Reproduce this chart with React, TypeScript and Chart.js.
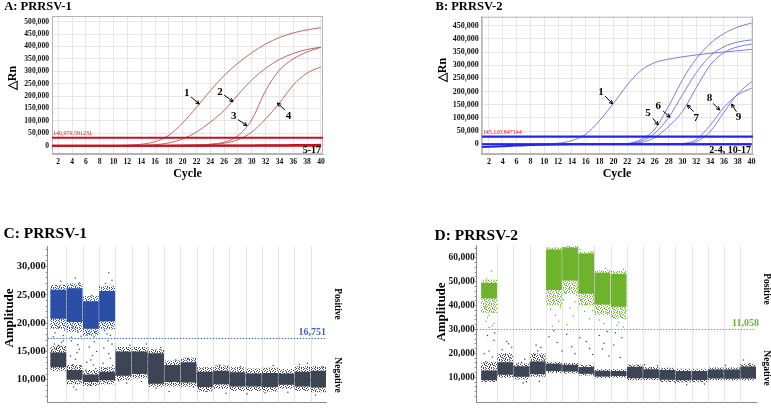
import React, { useEffect, useRef } from "react";
import { Chart, registerables } from "chart.js";
Chart.register(...registerables);

const SERIF = "'Liberation Serif','Times New Roman',serif";

// ---------------- Panels A / B : real-time PCR amplification ----------------
const cycles = [1, 2, 4, 6, 8, 10, 12, 14, 16, 18, 20, 22, 24, 26, 28, 30, 32, 34, 36, 38, 40];
const cycleTicks = [2, 4, 6, 8, 10, 12, 14, 16, 18, 20, 22, 24, 26, 28, 30, 32, 34, 36, 38, 40];
const rnTicksA = [0, 50000, 100000, 150000, 200000, 250000, 300000, 350000, 400000, 450000, 500000];
const rnTicksB = [0, 50000, 100000, 150000, 200000, 250000, 300000, 350000, 400000, 450000];

// ΔRn values (thousands) at the cycles above
const prrsv1Curve1 = [0, 0, 0, 0, 0, 0.5, 2, 6, 16, 42, 92, 155, 222, 283, 333, 375, 410, 436, 455, 467, 476];
const prrsv1Curve2 = [0, 0, 0, 0, 0, 0, 0.5, 1.5, 4, 11, 27, 55, 95, 142, 205, 265, 312, 348, 372, 388, 397];
const prrsv1Curve3 = [0, 0, 0, 0, 0, 0, 0, 0, 0.5, 1, 2, 3, 6, 14, 40, 105, 222, 305, 350, 378, 397];
const prrsv1Curve4 = [0, 0, 0, 0, 0, 0, 0, 0, 0.5, 1, 2, 3, 5, 10, 24, 55, 108, 172, 245, 293, 318];
const prrsv1Neg1 = [0, 0, 0, 0, 0, 0, 0, 0, 0, 0, 0, 0, 0, 0, 0, 0, 0, 0, 0, 0, 0];
const prrsv1Neg2 = [0, 0, 0, 0, 0, 0, 0, 0, 0, 0, 0, 0, 0.3, 0.5, 0.8, 1, 1.5, 2, 2.5, 3, 3.5];
const prrsv1Threshold = 32000;

const prrsv2Curve1 = [0, 0, 0, 0, 0, 1, 4, 14, 38, 90, 155, 225, 280, 310, 323, 332, 339, 345, 350, 355, 360];
const prrsv2Curve5 = [0, 0, 0, 0, 0, 0, 0, 0, 0, 0, 0.5, 3, 18, 58, 145, 245, 325, 382, 420, 445, 460];
const prrsv2Curve6 = [0, 0, 0, 0, 0, 0, 0, 0, 0, 0, 0.3, 2, 12, 42, 102, 188, 272, 335, 370, 388, 396];
const prrsv2Curve7 = [0, 0, 0, 0, 0, 0, 0, 0, 0, 0, 0.2, 1, 7, 26, 68, 125, 215, 300, 348, 370, 380];
const prrsv2Curve8 = [0, 0, 0, 0, 0, 0, 0, 0, 0, 0, 0, 0, 0, 0, 0.5, 3, 18, 72, 140, 188, 213];
const prrsv2Curve9 = [0, 0, 0, 0, 0, 0, 0, 0, 0, 0, 0, 0, 0, 0, 0.3, 1.5, 10, 48, 122, 192, 238];
const prrsv2Neg1 = [-10, -9, -7, -5, -3, -1.5, -0.5, 0, 0, 0, 0, 0, 0, 0, 0, 0, 0, 0, 0, 0, 0];
const prrsv2Neg2 = [0, 0, 0, 0, 0, 0, 0, 0, 0, 0, 0, 0, 0, 0, 0, 0, 0, 0, 0, 0, 0];
const prrsv2Threshold = 29000;

// ---------------- Panels C / D : droplet digital PCR ----------------
const wells = [1, 2, 3, 4, 5, 6, 7, 8, 9, 10, 11, 12, 13, 14, 15, 16, 17];
const ampMajorC = [10000, 15000, 20000, 25000, 30000];
const ampMajorD = [10000, 20000, 30000, 40000, 50000, 60000];

const posWellsC = [1, 2, 3, 4];
const posCoreLowC = [20800, 20200, 19000, 20300];
const posCoreHighC = [25900, 26200, 23900, 25700];
const posSpreadLowC = [19000, 18500, 17800, 18900];
const posSpreadHighC = [26800, 27000, 24800, 26600];
const negCoreLowC = [12200, 10000, 9600, 9900, 10700, 11000, 9300, 9600, 9500, 8700, 9200, 8800, 8800, 8700, 9100, 8800, 8600];
const negCoreHighC = [14800, 11700, 10900, 11400, 15000, 15000, 14700, 12600, 13100, 11400, 11600, 11300, 11100, 11200, 11100, 11400, 11600];
const negSpreadLowC = [11500, 9200, 8900, 9200, 9900, 10200, 8700, 8800, 8700, 7900, 8400, 8000, 8000, 7900, 8400, 8000, 7800];
const negSpreadHighC = [16000, 12600, 11700, 12200, 15800, 15800, 15400, 13400, 13900, 12200, 12500, 12200, 12000, 12100, 11900, 12400, 12400];
const thresholdC = 17300;
const thresholdLabelC = "16,751";
const rainNegC = [[0.75,16300],[1.1,15900],[1.3,16900],[0.9,15500],[1.2,16600],[0.65,15300],[1.4,15700],[1.0,16100],
  [1.75,14200],[2.05,13600],[2.3,15400],[1.9,12700],[2.2,16200],[2.4,12400],[1.8,16900],[2.1,8200],[1.95,8700],[2.15,14800],
  [2.75,13100],[3.1,14300],[3.3,12000],[2.9,15800],[3.2,16700],[3.0,13500],[2.7,11700],[3.35,15000],[2.95,9000],[3.15,12600],
  [3.75,12900],[4.1,14600],[4.3,16300],[3.9,12000],[4.2,13800],[4.05,16900],[3.8,15600],[4.35,12500],
  [4.7,9800],[5.2,9400],[5.4,16100],[6.1,9700],[6.4,16300],[7.0,8500],[7.3,15700],[7.8,7900],[8.2,13500],[9.0,13700],
  [9.3,8700],[10.1,7900],[10.9,12600],[11.3,7600],[12.2,12300],[12.6,7500],[13.7,7700],[14.2,12500],[15.1,7800],
  [15.8,12700],[16.3,12900],[16.8,7300],[17.2,12200]];
const rainPosC = [[1.0,19200],[0.8,18300],[1.3,17800],[1.15,27400],[0.7,17600],[1.4,18800],
  [1.9,19300],[2.2,18400],[2.4,17700],[2.05,28000],[1.8,17500],[2.3,27100],
  [2.9,18200],[3.2,17600],[3.05,24900],[3.3,18500],[2.75,17900],
  [3.85,18700],[4.2,17800],[4.1,28900],[4.3,27600],[3.9,27000],[4.0,18100]];

const posWellsD = [1, 5, 6, 7, 8, 9];
const posCoreLowD = [43000, 46500, 50500, 45000, 40500, 39500];
const posCoreHighD = [49600, 63500, 64300, 61800, 53800, 53200];
const posSpreadLowD = [37000, 40000, 45000, 40000, 36000, 34500];
const posSpreadHighD = [50800, 64300, 65000, 62600, 54800, 54600];
const negCoreLowD = [8700, 11000, 10200, 11300, 12600, 12400, 11500, 10300, 10500, 9600, 9600, 8900, 8700, 8800, 9500, 9400, 9500];
const negCoreHighD = [12800, 16300, 14600, 16600, 15600, 15200, 14300, 12700, 12600, 14400, 13300, 13000, 12600, 12600, 13200, 13200, 14500];
const negSpreadLowD = [8000, 9800, 9000, 10200, 11800, 11600, 10700, 9600, 9800, 8700, 8800, 8000, 7800, 7900, 8700, 8600, 8600];
const negSpreadHighD = [16500, 20000, 15800, 20000, 16500, 16000, 15200, 13500, 13400, 15300, 14300, 14000, 13600, 13600, 14100, 14100, 15600];
const thresholdD = 30000;
const thresholdLabelD = "11,058";
const rainNegD = [[0.8,16500],[1.2,18500],[1.0,21000],[1.3,25500],[0.9,27500],[1.1,15200],[0.7,19800],[1.35,28500],
  [1.8,21500],[2.2,24000],[2.0,19500],[2.4,22500],[2.3,18200],[1.9,17800],[2.1,25000],
  [2.8,15800],[3.2,17500],[3.0,16200],[3.3,8100],[3.1,7600],
  [3.8,19500],[4.2,22500],[4.0,21000],[4.3,18500],[3.9,23500],[4.4,17200],[4.1,8300],
  [4.7,27000],[5.2,24500],[5.5,21000],[5.0,29500],[6.1,22800],[6.3,19800],[5.8,28000],
  [6.6,26500],[7.2,22000],[7.0,25000],[7.4,19500],
  [7.8,27500],[8.1,24200],[8.3,29200],[8.0,21800],[8.4,18900],[8.7,23500],[9.2,26500],[9.1,18300],[8.8,28600],
  [10.6,15200],[11.4,14800],[12.5,7700],[13.2,6900],[14.3,7200],[15.6,15000],[16.7,17200],[17.1,15600]];
const rainPosD = [[1.0,36000],[0.8,33500],[1.2,31500],[1.1,38500],[0.9,35000],[1.3,32500],[1.0,30800],[1.15,54500],
  [0.85,51300],[0.75,39500],[1.25,37200],
  [4.8,38500],[5.1,36000],[5.3,33500],[4.9,31500],[5.6,42500],[5.0,42000],[5.4,39500],
  [6.0,39000],[6.2,35500],[5.8,32000],[6.4,44500],[6.0,47000],[5.7,45500],[6.3,41500],
  [6.9,37500],[7.2,34500],[7.0,40500],[7.4,38000],[6.7,42500],
  [7.8,34000],[8.1,32500],[8.3,37000],[8.6,35500],[7.7,38500],
  [9.0,33000],[9.3,31000],[9.1,36500],[8.9,31800],[9.4,34500],
  [6.6,63500],[7.3,62500],[8.2,55500],[9.3,55200],[5.9,65200]];

// ---------------- helpers ----------------
const fmt = (v: number) => Number(v).toLocaleString("en-US");

// stipple texture used to paint the sparse droplet fringe of each cluster
const STIPPLE = [
  "X.X..X..",
  "...X...X",
  ".X...X..",
  "X..X..X.",
  "..X...X.",
  "X...X..X",
  ".X.X....",
  "...X.X.X",
];
function stipple(color: string): CanvasPattern | string {
  const c = document.createElement("canvas");
  c.width = 8;
  c.height = 8;
  const g = c.getContext("2d");
  if (!g) return color;
  g.fillStyle = color;
  STIPPLE.forEach((row, r) => row.split("").forEach((ch, k) => { if (ch === "X") g.fillRect(k, r, 1, 1); }));
  return g.createPattern(c, "repeat") || color;
}

function drawArrow(ctx: CanvasRenderingContext2D, x1: number, y1: number, x2: number, y2: number) {
  ctx.beginPath();
  ctx.moveTo(x1, y1);
  ctx.lineTo(x2, y2);
  ctx.lineWidth = 1;
  ctx.strokeStyle = "#000";
  ctx.stroke();
  const a = Math.atan2(y2 - y1, x2 - x1);
  const h = 4;
  ctx.beginPath();
  ctx.moveTo(x2, y2);
  ctx.lineTo(x2 - h * Math.cos(a - 0.45), y2 - h * Math.sin(a - 0.45));
  ctx.moveTo(x2, y2);
  ctx.lineTo(x2 - h * Math.cos(a + 0.45), y2 - h * Math.sin(a + 0.45));
  ctx.stroke();
}

const framePlugin = {
  id: "frame",
  beforeDatasetsDraw(chart: any) {
    const { ctx, chartArea: c } = chart;
    ctx.save();
    ctx.strokeStyle = "#b4b4b4";
    ctx.lineWidth = 1;
    ctx.strokeRect(c.left + 0.5, c.top + 0.5, c.right - c.left - 1, c.bottom - c.top - 1);
    ctx.restore();
  },
};

function ampChart(canvas: HTMLCanvasElement, p: any) {
  const pts = (v: number[]) => cycles.map((c, i) => ({ x: c, y: v[i] * 1000 }));
  const datasets: any[] = [];
  p.curves.forEach((v: number[]) =>
    datasets.push({ data: pts(v), borderColor: p.curveColor, borderWidth: 0.9, pointRadius: 0, cubicInterpolationMode: "monotone", order: 2 })
  );
  p.negs.forEach((v: number[]) =>
    datasets.push({ data: pts(v), borderColor: p.thickColor, borderWidth: 2, pointRadius: 0, cubicInterpolationMode: "monotone", order: 1 })
  );
  datasets.push({
    data: [{ x: p.xMin, y: p.threshold }, { x: p.xMax, y: p.threshold }],
    borderColor: p.thickColor, borderWidth: 2.2, pointRadius: 0, order: 0,
  });
  const tickFont = { family: SERIF, size: p.tickSize, weight: "bold" as const };
  const annot = {
    id: "annot",
    afterDatasetsDraw(chart: any) {
      const { ctx, chartArea } = chart;
      const x = chart.scales.x, y = chart.scales.y;
      ctx.save();
      ctx.font = `6px ${SERIF}`;
      ctx.fillStyle = "#ff1010";
      ctx.textAlign = "left";
      ctx.textBaseline = "bottom";
      ctx.fillText(p.thresholdText, chartArea.left + 1, y.getPixelForValue(p.threshold) - 1);
      ctx.font = `bold 11px ${SERIF}`;
      ctx.fillStyle = "#000";
      ctx.textAlign = "center";
      ctx.textBaseline = "middle";
      p.notes.forEach((n: any) => {
        ctx.fillText(n.text, x.getPixelForValue(n.at[0]), y.getPixelForValue(n.at[1]));
        drawArrow(ctx, x.getPixelForValue(n.from[0]), y.getPixelForValue(n.from[1]), x.getPixelForValue(n.to[0]), y.getPixelForValue(n.to[1]));
      });
      ctx.font = `bold 10px ${SERIF}`;
      ctx.textAlign = "right";
      ctx.fillText(p.cornerText, chartArea.right - 2, y.getPixelForValue(p.cornerY));
      ctx.restore();
    },
  };
  return new Chart(canvas, {
    type: "line",
    data: { datasets },
    options: {
      animation: false,
      responsive: false,
      events: [],
      layout: { padding: p.padding },
      plugins: { legend: { display: false }, tooltip: { enabled: false } },
      scales: {
        x: {
          type: "linear", min: p.xMin, max: p.xMax,
          afterBuildTicks: (s: any) => { s.ticks = cycleTicks.map((v) => ({ value: v })); },
          afterFit: (s: any) => { s.height = p.xAxisH; },
          grid: { color: "#e6e6e6", drawTicks: false },
          border: { color: "#b4b4b4" },
          ticks: { font: tickFont, color: "#111", padding: 3, autoSkip: false, maxRotation: 0 },
        },
        y: {
          type: "linear", min: p.yMin, max: p.yMax,
          afterBuildTicks: (s: any) => { s.ticks = p.yTicks.map((v: number) => ({ value: v })); },
          afterFit: (s: any) => { s.width = p.yAxisW; },
          grid: { color: "#e6e6e6", drawTicks: false },
          border: { color: "#b4b4b4" },
          ticks: { font: tickFont, color: "#111", padding: 3, autoSkip: false, callback: (v: any) => fmt(v) },
        },
      },
    },
    plugins: [framePlugin, annot],
  } as any);
}

function dropChart(canvas: HTMLCanvasElement, p: any) {
  const gray = "#3d4453";
  const bar = (ws: number[], lo: number[], hi: number[], color: any, order: number) => ({
    type: "bar",
    data: ws.map((w, i) => ({ x: w, y: [lo[i], hi[i]] })),
    backgroundColor: color, borderWidth: 0, grouped: false, barPercentage: 0.97, categoryPercentage: 1, order,
  });
  const dots = (list: number[][], color: string) => ({
    type: "scatter",
    data: list.map(([x, y]) => ({ x, y })),
    backgroundColor: color, borderWidth: 0, pointRadius: 0.75, order: 1,
  });
  const datasets: any[] = [
    bar(p.posWells, p.posSpreadLow, p.posSpreadHigh, stipple(p.posColor), 4),
    bar(wells, p.negSpreadLow, p.negSpreadHigh, stipple(gray), 4),
    bar(p.posWells, p.posCoreLow, p.posCoreHigh, p.posColor, 3),
    bar(wells, p.negCoreLow, p.negCoreHigh, gray, 3),
    dots(p.rainNeg, gray),
    dots(p.rainPos, p.posColor),
    {
      type: "line",
      data: [{ x: p.xMin, y: p.threshold }, { x: p.xMax, y: p.threshold }],
      borderColor: p.thrColor, borderWidth: 1, borderDash: [1.5, 1.5], pointRadius: 0, order: 0,
    },
  ];
  const minor: number[] = [];
  for (let v = p.minorStart; v <= p.yMax; v += p.minorStep) minor.push(v);
  const major = new Set(p.majorTicks);
  const extra = {
    id: "extra",
    beforeDatasetsDraw(chart: any) {
      const { ctx, chartArea: c } = chart;
      const x = chart.scales.x;
      ctx.save();
      ctx.strokeStyle = "#e4e4e4";
      ctx.lineWidth = 1;
      wells.slice(0, -1).forEach((w) => {
        const px = Math.round(x.getPixelForValue(w + 0.5)) + 0.5;
        ctx.beginPath();
        ctx.moveTo(px, c.top);
        ctx.lineTo(px, c.bottom);
        ctx.stroke();
      });
      ctx.restore();
    },
    afterDatasetsDraw(chart: any) {
      const { ctx, chartArea: c } = chart;
      const y = chart.scales.y;
      ctx.save();
      ctx.font = `bold 10px ${SERIF}`;
      ctx.fillStyle = p.thrColor;
      ctx.textAlign = "right";
      ctx.textBaseline = "bottom";
      ctx.fillText(p.thresholdText, c.right + p.labelDx, y.getPixelForValue(p.threshold) - 1.5);
      ctx.restore();
    },
  };
  return new Chart(canvas, {
    type: "bar",
    data: { datasets },
    options: {
      animation: false,
      responsive: false,
      events: [],
      layout: { padding: p.padding },
      plugins: { legend: { display: false }, tooltip: { enabled: false } },
      scales: {
        x: {
          type: "linear", min: p.xMin, max: p.xMax, offset: false,
          afterBuildTicks: (s: any) => { s.ticks = wells.map((v) => ({ value: v })); },
          afterFit: (s: any) => { s.height = p.xAxisH; },
          grid: { display: false, offset: false },
          border: { display: true, color: "#8a8a8a" },
          ticks: { font: { family: SERIF, size: 9, weight: "bold" }, color: "#111", padding: 3, autoSkip: false, maxRotation: 0 },
        },
        y: {
          type: "linear", min: p.yMin, max: p.yMax,
          afterBuildTicks: (s: any) => { s.ticks = minor.map((v) => ({ value: v })); },
          afterFit: (s: any) => { s.width = p.yAxisW; },
          grid: { display: true, drawOnChartArea: false, drawTicks: true, tickLength: 2, color: "#8a8a8a" },
          border: { display: true, color: "#8a8a8a" },
          ticks: {
            font: { family: SERIF, size: p.yTickSize, weight: "bold" }, color: "#111", padding: 0, autoSkip: false,
            callback: (v: any) => (major.has(v) ? fmt(v) : ""),
          },
        },
      },
    },
    plugins: [extra],
  } as any);
}

function Txt(props: { x: number; y: number; text: string; size: number; rot?: number; color?: string }) {
  return (
    <div
      style={{
        position: "absolute", left: props.x, top: props.y,
        transform: `translate(-50%,-50%) rotate(${props.rot || 0}deg)`,
        fontFamily: SERIF, fontWeight: "bold", fontSize: props.size, lineHeight: `${props.size}px`,
        whiteSpace: "nowrap", color: props.color || "#000",
      }}
    >
      {props.text}
    </div>
  );
}

export default function App() {
  const refA = useRef<HTMLCanvasElement>(null);
  const refB = useRef<HTMLCanvasElement>(null);
  const refC = useRef<HTMLCanvasElement>(null);
  const refD = useRef<HTMLCanvasElement>(null);

  useEffect(() => {
    const charts: Chart[] = [];
    charts.push(
      ampChart(refA.current!, {
        curves: [prrsv1Curve1, prrsv1Curve2, prrsv1Curve3, prrsv1Curve4],
        negs: [prrsv1Neg1, prrsv1Neg2],
        curveColor: "#b8545e", thickColor: "#c8101e",
        threshold: prrsv1Threshold, thresholdText: "140,979.591231",
        xMin: 1.1, xMax: 40.3, yMin: -33500, yMax: 523000, yTicks: rnTicksA,
        padding: { left: 0, right: 67, top: 16, bottom: 0 }, yAxisW: 52, xAxisH: 26, tickSize: 7.6,
        notes: [
          { text: "1", at: [20.6, 213700], from: [21.2, 197000], to: [22.4, 168000] },
          { text: "2", at: [25.4, 217700], from: [26.0, 204000], to: [27.3, 177400] },
          { text: "3", at: [27.4, 121000], from: [28.0, 105000], to: [29.3, 81000] },
          { text: "4", at: [35.3, 121000], from: [34.8, 143900], to: [33.7, 172000] },
        ],
        cornerText: "5-17", cornerY: -19400,
      })
    );
    charts.push(
      ampChart(refB.current!, {
        curves: [prrsv2Curve1, prrsv2Curve5, prrsv2Curve6, prrsv2Curve7, prrsv2Curve8, prrsv2Curve9],
        negs: [prrsv2Neg1, prrsv2Neg2],
        curveColor: "#6b6bf2", thickColor: "#2424f0",
        threshold: prrsv2Threshold, thresholdText: "145,120.847144",
        xMin: 0.95, xMax: 40.2, yMin: -36800, yMax: 484000, yTicks: rnTicksB,
        padding: { left: 0, right: 18, top: 16.7, bottom: 0 }, yAxisW: 91.7, xAxisH: 26, tickSize: 8,
        notes: [
          { text: "1", at: [18.2, 199500], from: [18.8, 183000], to: [19.9, 153000] },
          { text: "5", at: [25.0, 119900], from: [25.7, 98600], to: [26.5, 73200] },
          { text: "6", at: [26.5, 145300], from: [27.2, 126300], to: [28.2, 102400] },
          { text: "7", at: [32.0, 98600], from: [31.6, 123700], to: [30.7, 149100] },
          { text: "8", at: [33.9, 174500], from: [34.4, 155500], to: [35.4, 130100] },
          { text: "9", at: [38.1, 102400], from: [37.8, 123700], to: [37.1, 152900] },
        ],
        cornerText: "2-4, 10-17", cornerY: -21600,
      })
    );
    charts.push(
      dropChart(refC.current!, {
        posWells: posWellsC, posCoreLow: posCoreLowC, posCoreHigh: posCoreHighC,
        posSpreadLow: posSpreadLowC, posSpreadHigh: posSpreadHighC,
        negCoreLow: negCoreLowC, negCoreHigh: negCoreHighC, negSpreadLow: negSpreadLowC, negSpreadHigh: negSpreadHighC,
        rainNeg: rainNegC, rainPos: rainPosC,
        posColor: "#2b4ea6", thrColor: "#3f63b8",
        threshold: thresholdC, thresholdText: thresholdLabelC, labelDx: 0,
        xMin: 0.35, xMax: 17.44, yMin: 6000, yMax: 33600, minorStart: 7000, minorStep: 1000, majorTicks: ampMajorC,
        padding: { left: 0, right: 64, top: 3.3, bottom: 0 }, yAxisW: 47.7, xAxisH: 10.7, yTickSize: 10.5,
      })
    );
    charts.push(
      dropChart(refD.current!, {
        posWells: posWellsD, posCoreLow: posCoreLowD, posCoreHigh: posCoreHighD,
        posSpreadLow: posSpreadLowD, posSpreadHigh: posSpreadHighD,
        negCoreLow: negCoreLowD, negCoreHigh: negCoreHighD, negSpreadLow: negSpreadLowD, negSpreadHigh: negSpreadHighD,
        rainNeg: rainNegD, rainPos: rainPosD,
        posColor: "#6db42c", thrColor: "#6db42c",
        threshold: thresholdD, thresholdText: thresholdLabelD, labelDx: 3,
        xMin: 0.235, xMax: 17.48, yMin: -500, yMax: 65100, minorStart: 2000, minorStep: 2000, majorTicks: ampMajorD,
        padding: { left: 0, right: 15, top: 3.3, bottom: 0 }, yAxisW: 86.7, xAxisH: 10.7, yTickSize: 9.5,
      })
    );
    return () => charts.forEach((c) => c.destroy());
  }, []);

  const cv = (left: number, top: number, w: number, h: number, ref: any) => (
    <canvas ref={ref} width={w} height={h} style={{ position: "absolute", left, top, width: w, height: h }} />
  );

  return (
    <div style={{ position: "fixed", left: 0, top: 0, width: 771, height: 413, background: "#fff", overflow: "hidden" }}>
      {cv(0, 0, 390, 180, refA)}
      {cv(390, 0, 381, 180, refB)}
      {cv(0, 240, 390, 173, refC)}
      {cv(390, 240, 381, 173, refD)}
      <Txt x={38} y={5.5} text="A: PRRSV-1" size={12.5} />
      <Txt x={469} y={5.5} text="B: PRRSV-2" size={12.5} />
      <Txt x={187.5} y={173} text="Cycle" size={12} />
      <Txt x={617} y={173} text="Cycle" size={12} />
      <Txt x={12} y={78} text="△Rn" size={12} rot={-90} />
      <Txt x={441.7} y={70} text="△Rn" size={12} rot={-90} />
      <Txt x={45.3} y={233} text="C: PRRSV-1" size={15.5} />
      <Txt x={476.3} y={235} text="D: PRRSV-2" size={15.5} />
      <Txt x={8} y={318} text="Amplitude" size={13} rot={-90} />
      <Txt x={440} y={311.7} text="Amplitude" size={13} rot={-90} />
      <Txt x={337} y={304} text="Positive" size={9.5} rot={90} />
      <Txt x={337} y={375} text="Negative" size={9.5} rot={90} />
      <Txt x={765.8} y={289} text="Positive" size={9.5} rot={90} />
      <Txt x={765.8} y={368} text="Negative" size={9.5} rot={90} />
    </div>
  );
}
